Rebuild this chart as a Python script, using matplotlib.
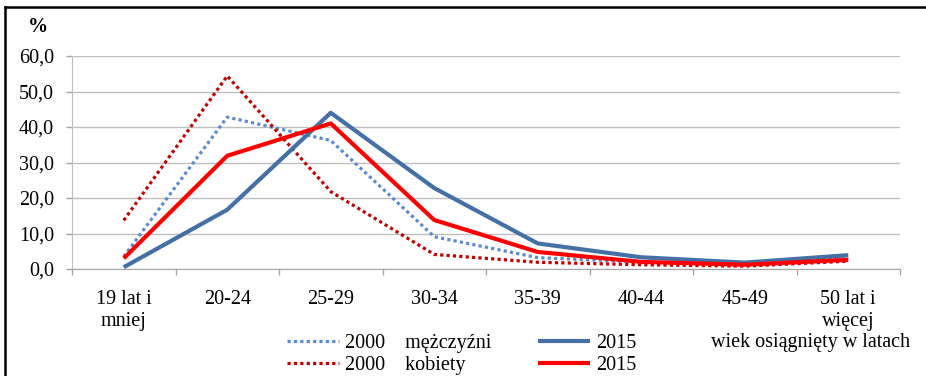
import matplotlib
matplotlib.use("Agg")
import matplotlib.pyplot as plt
from matplotlib.lines import Line2D
import numpy as np

categories = ["19 lat i\nmniej", "20-24", "25-29", "30-34", "35-39", "40-44", "45-49", "50 lat i\nwięcej"]
men_2000 = [3.5, 42.8, 36.2, 9.1, 3.2, 2.0, 1.3, 3.0]
women_2000 = [13.7, 54.4, 21.8, 4.1, 1.9, 1.2, 0.8, 2.2]
men_2015 = [0.5, 16.7, 44.0, 22.8, 7.2, 3.3, 1.8, 3.9]
women_2015 = [3.0, 31.9, 41.0, 13.8, 4.8, 2.0, 1.2, 2.6]
yticks = [0, 10, 20, 30, 40, 50, 60]

plt.rcParams['font.family'] = ['Liberation Serif', 'DejaVu Serif']
FS = 14.5

fig = plt.figure(figsize=(9.26, 3.76), dpi=100)
ax = fig.add_axes([72/926, 1-269/376, 828/926, 213/376])

x = np.arange(len(categories))
c_bd = '#5B8BD0'
c_rd = '#C00000'
c_bs = '#4470A6'
c_rs = '#FF0000'
l1, = ax.plot(x, men_2000, color=c_bd, lw=2.3, linestyle=(0, (1, 1)), zorder=3)
l2, = ax.plot(x, women_2000, color=c_rd, lw=2.3, linestyle=(0, (1, 1)), zorder=3)
l3, = ax.plot(x, men_2015, color=c_bs, lw=3.0, solid_capstyle='butt', zorder=4)
l4, = ax.plot(x, women_2015, color=c_rs, lw=3.0, solid_capstyle='butt', zorder=5)

ax.set_xlim(-0.5, len(categories) - 0.5)
ax.set_ylim(0, 60)
ax.set_yticks(yticks)
ax.set_yticklabels([f"{v:.1f}".replace('.', ',') for v in yticks], fontsize=FS)
ax.set_xticks(x)
ax.set_xticklabels(categories, fontsize=FS, linespacing=1.2)
ax.set_xticks(np.arange(-0.5, len(categories)), minor=True)
ax.tick_params(axis='x', which='major', length=0, pad=15)
ax.tick_params(axis='x', which='minor', length=4.5, color='#A6A6A6', width=1)
ax.tick_params(axis='y', length=4, color='#A6A6A6', width=1, pad=9)
ax.yaxis.grid(True, color='#BFBFBF', lw=1)
ax.set_axisbelow(True)
for s in ['top', 'right']:
    ax.spines[s].set_visible(False)
ax.spines['left'].set_color('#BFBFBF')
ax.spines['bottom'].set_color('#A6A6A6')

fig.text(38/926, 1-27/376, '%', fontsize=FS, fontweight='bold', ha='center', va='center')
fig.text(811/926, 1-342/376, 'wiek osiągnięty w latach', fontsize=FS, ha='center', va='center')

leg = fig.legend([l1, l2, l3, l4], ['2000    mężczyźni', '2000    kobiety', '2015', '2015'],
                 ncol=2, frameon=False, loc='upper left',
                 bbox_to_anchor=(287/926, 1-334/376), fontsize=FS,
                 handlelength=2.6, handletextpad=0.3, columnspacing=2.3,
                 labelspacing=0.15, borderpad=0, borderaxespad=0)

# outer frame (left and top edges visible)
fig.add_artist(Line2D([5/926, 5/926], [0, 1-7/376], transform=fig.transFigure, color='black', lw=1.8))
fig.add_artist(Line2D([5/926, 1], [1-7/376, 1-7/376], transform=fig.transFigure, color='black', lw=1.8))

fig.savefig('out.png', dpi=100)
